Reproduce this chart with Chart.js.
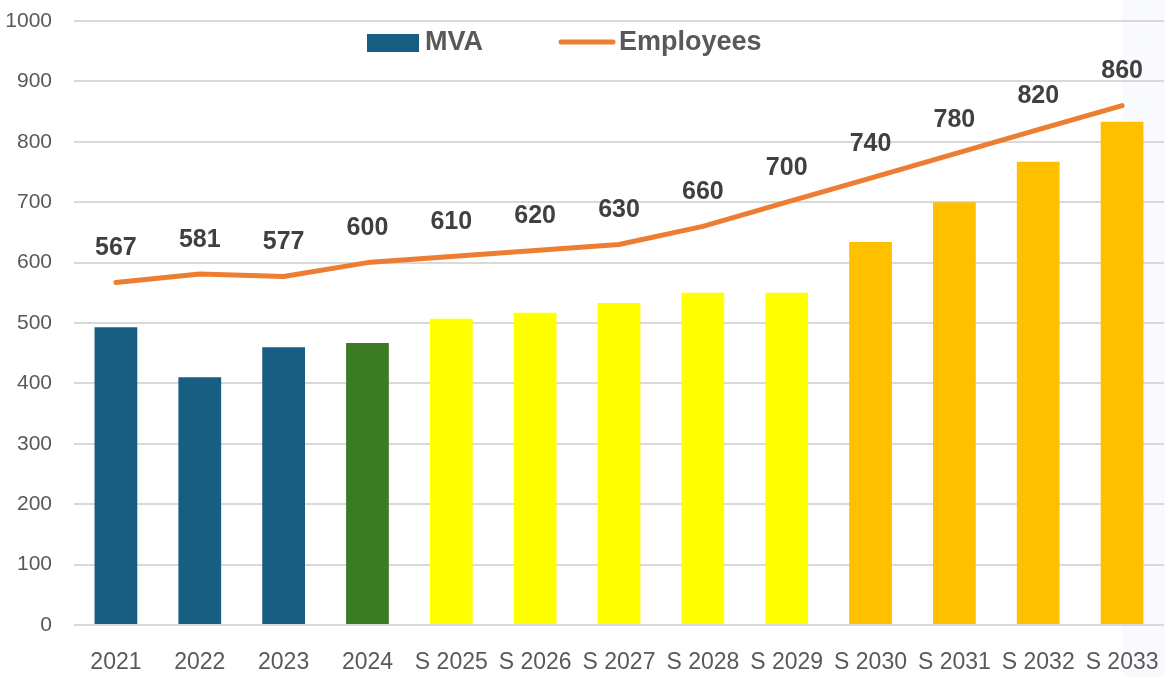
<!DOCTYPE html>
<html>
<head>
<meta charset="utf-8">
<script src="https://cdn.jsdelivr.net/npm/chart.js@4"></script>
<style>
html,body{margin:0;padding:0;background:#fff;}
#wrap{width:1165px;height:677px;position:relative;}
</style>
</head>
<body>
<div id="wrap"><canvas id="c" width="1165" height="677"></canvas></div>
<script>
const categories = ["2021","2022","2023","2024","S 2025","S 2026","S 2027","S 2028","S 2029","S 2030","S 2031","S 2032","S 2033"];
const mvaValues = [493, 410, 460, 467, 507, 517, 533, 550, 550, 634, 700, 767, 833];
const employeeValues = [567, 581, 577, 600, 610, 620, 630, 660, 700, 740, 780, 820, 860];
const barColors = ["#175E82","#175E82","#175E82","#3B7B23","#FFFF00","#FFFF00","#FFFF00","#FFFF00","#FFFF00","#FFC000","#FFC000","#FFC000","#FFC000"];
const yTicks = [0,100,200,300,400,500,600,700,800,900,1000];

const FONT = "'Liberation Sans', Arial, sans-serif";

const bgTint = {
  id: 'bgTint',
  beforeDraw(chart) {
    const ctx = chart.ctx;
    ctx.save();
    ctx.fillStyle = '#f8fafd';
    ctx.fillRect(1123, 0, chart.width - 1123, chart.height);
    ctx.restore();
  }
};

const lineLabels = {
  id: 'lineLabels',
  afterDatasetsDraw(chart) {
    const ctx = chart.ctx;
    const meta = chart.getDatasetMeta(1);
    ctx.save();
    ctx.font = "bold 25px " + FONT;
    ctx.fillStyle = '#404040';
    ctx.textAlign = 'center';
    ctx.textBaseline = 'middle';
    meta.data.forEach((pt, i) => {
      ctx.fillText(String(employeeValues[i]), pt.x, pt.y - 34);
    });
    ctx.restore();
  }
};

const customLegend = {
  id: 'customLegend',
  afterDraw(chart) {
    const ctx = chart.ctx;
    ctx.save();
    ctx.fillStyle = '#175E82';
    ctx.fillRect(367, 34, 52, 18);
    ctx.strokeStyle = '#ED7D31';
    ctx.lineWidth = 5;
    ctx.lineCap = 'round';
    ctx.beginPath();
    ctx.moveTo(561, 42);
    ctx.lineTo(613, 42);
    ctx.stroke();
    ctx.font = "bold 27px " + FONT;
    ctx.fillStyle = '#595959';
    ctx.textAlign = 'left';
    ctx.textBaseline = 'middle';
    ctx.fillText(chart.data.datasets[0].label, 425, 43);
    ctx.fillText(chart.data.datasets[1].label, 619, 43);
    ctx.restore();
  }
};

new Chart(document.getElementById('c'), {
  data: {
    labels: categories,
    datasets: [
      {
        type: 'bar',
        label: 'MVA',
        data: mvaValues,
        backgroundColor: barColors,
        borderWidth: 0,
        categoryPercentage: 1.0,
        barPercentage: 0.51,
        order: 2
      },
      {
        type: 'line',
        label: 'Employees',
        data: employeeValues,
        borderColor: '#ED7D31',
        backgroundColor: '#ED7D31',
        borderWidth: 5,
        pointRadius: 0,
        pointHoverRadius: 0,
        tension: 0,
        borderCapStyle: 'round',
        borderJoinStyle: 'round',
        fill: false,
        order: 1
      }
    ]
  },
  options: {
    responsive: false,
    animation: false,
    layout: { padding: { top: 21, right: 1, bottom: 0, left: 0 } },
    plugins: {
      legend: { display: false },
      tooltip: { enabled: false },
      title: { display: false }
    },
    scales: {
      x: {
        grid: { display: false, drawTicks: false },
        border: { display: false },
        ticks: {
          color: '#595959',
          font: { family: FONT, size: 23 },
          padding: 24,
          maxRotation: 0,
          minRotation: 0,
          autoSkip: false
        },
        afterFit(scale) { scale.height = 52; scale.paddingLeft = 0; scale.paddingRight = 0; }
      },
      y: {
        min: 0,
        max: 1000,
        afterBuildTicks(scale) { scale.ticks = yTicks.map(v => ({ value: v })); },
        grid: { color: '#d9d9d9', lineWidth: 2, drawTicks: false },
        border: { display: false },
        ticks: {
          color: '#595959',
          font: { family: FONT, size: 21 },
          padding: 22,
          callback: (v) => String(v)
        },
        afterFit(scale) { scale.width = 74; scale.paddingTop = 0; scale.paddingBottom = 0; }
      }
    }
  },
  plugins: [bgTint, lineLabels, customLegend]
});
</script>
</body>
</html>
